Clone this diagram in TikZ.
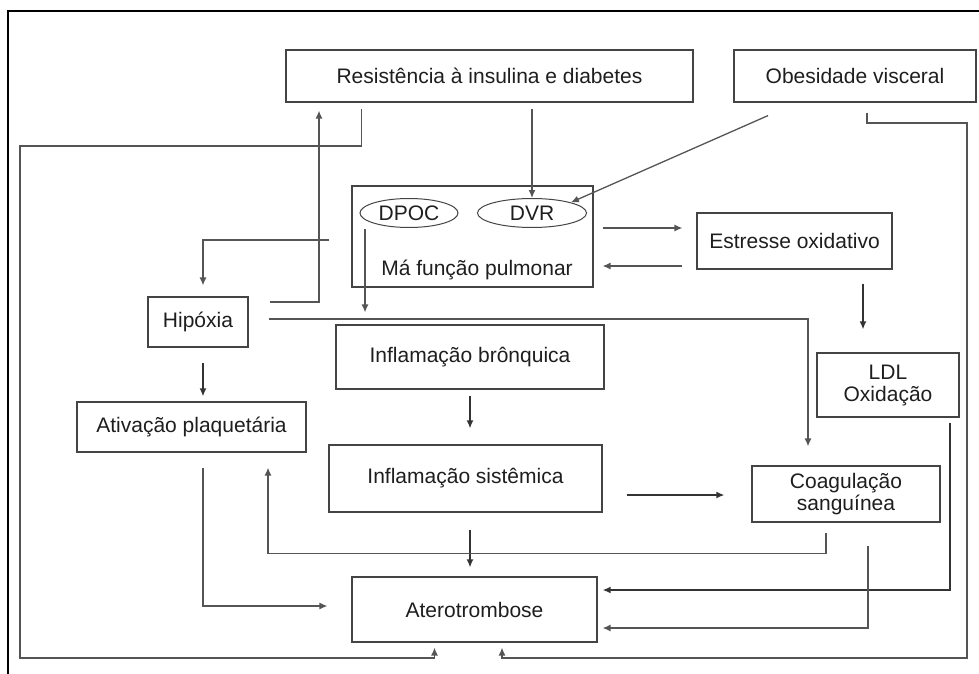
\documentclass[tikz,border=0pt]{standalone}
\usepackage{fontspec}
\setmainfont{Liberation Sans}
\usetikzlibrary{calc}
\usetikzlibrary{arrows.meta}
\usetikzlibrary{shapes.geometric}
\definecolor{boxgray}{HTML}{444444}
\definecolor{linegray}{HTML}{555555}
\definecolor{txtgray}{HTML}{1E1E1E}
\tikzset{caixa/.style={draw=boxgray,line width=0.6pt,rectangle,inner sep=0pt,align=center,
    text=txtgray,font=\fontsize{10.5}{11}\selectfont}}
\tikzset{oval/.style={draw=boxgray,line width=0.5pt,ellipse,inner sep=0pt,
    text=txtgray,font=\fontsize{10.5}{11}\selectfont}}
\tikzset{seta/.style={draw=linegray,line width=0.65pt,-{Latex[length=4pt,width=3.5pt]}}}
\tikzset{setaforte/.style={seta,draw=black!80,line width=0.9pt}}

\begin{document}
\begin{tikzpicture}[x=0.5pt,y=-0.5pt]
    \useasboundingbox (0,0) rectangle (979,674);
    % frame
    \draw[black,line width=1.2pt] (8,674) -- (8,11) -- (979,11);

    % boxes
    \node[caixa,minimum width=203.5pt,minimum height=26pt] (res) at (489.5,76) {Resistência à insulina e diabetes};
    \node[caixa,minimum width=121pt,minimum height=26pt] (obe) at (855,76) {Obesidade visceral};
    \node[caixa,minimum width=120.5pt,minimum height=50.5pt] (mfp) at (472.5,236.5) {};
    \node[oval,minimum width=49pt,minimum height=14.5pt] (dpoc) at (409,213) {DPOC};
    \node[oval,minimum width=54.5pt,minimum height=14.5pt] (dvr) at (532,213) {DVR};
    \node[caixa,draw=none] (mfplbl) at (477,270) {Má função pulmonar};
    \node[caixa,minimum width=97.5pt,minimum height=28pt] (est) at (794.5,241) {Estresse oxidativo};
    \node[caixa,minimum width=50pt,minimum height=25pt] (hip) at (198,322) {Hipóxia};
    \node[caixa,minimum width=134pt,minimum height=32pt] (infb) at (470,357) {Inflamação brônquica};
    \node[caixa,minimum width=71pt,minimum height=32pt] (ldl) at (888,385) {LDL\\Oxidação};
    \node[caixa,minimum width=114.5pt,minimum height=25pt] (ativ) at (191.5,427) {Ativação plaquetária};
    \node[caixa,minimum width=136.5pt,minimum height=33.5pt] (infs) at (465.5,478.5) {Inflamação sistêmica};
    \node[caixa,minimum width=94pt,minimum height=28pt] (coag) at (846,494) {Coagulação\\sanguínea};
    \node[caixa,minimum width=122.5pt,minimum height=32.5pt] (ater) at (474.5,609.5) {Aterotrombose};

    % connectors
    \draw[seta] ($(res.south -| dvr.north)+(0,6)$) -- (dvr.north);
    \draw[seta] ($(obe.south)+(-87,13)$) -- (dvr.north east);
    \draw[seta] ($(res.south)+(-128,6)$) |- (20,146) -- (20,658) -| ($(ater.south)+(-40,5)$);
    \draw[seta] ($(hip.east)+(21,-20)$) -| ($(res.south)+(-170.5,8)$);
    \draw[seta] ($(mfp.west)+(-22,3.5)$) -| ($(hip.north)+(5,-11)$);
    \draw[seta] ($(dpoc.south)+(-44,1)$) -- ($(infb.north)+(-105,-12)$);
    \draw[seta] ($(hip.east)+(20,-3)$) -| ($(coag.north)+(-38,-19)$);
    \draw[seta] ($(mfp.east)+(9,-8.5)$) -- ($(est.west)+(-14,-13)$);
    \draw[seta] ($(est.west)+(-14,25)$) -- ($(mfp.east)+(9,29.5)$);
    \draw[setaforte] ($(est.south)+(68.5,14)$) -- ($(ldl.north)+(-25,-23)$);
    \draw[seta] ($(obe.south)+(12,10)$) |- (967,123) -- (967,658) -| ($(ater.south)+(27.5,5)$);
    \draw[setaforte] ($(hip.south)+(5,15)$) -- ($(ativ.north)+(11.5,-5)$);
    \draw[setaforte] ($(infb.south)+(0,6)$) -- ($(infs.north)+(4.5,-16)$);
    \draw[setaforte] ($(infs.east)+(24,16.5)$) -- ($(coag.west)+(-27,1)$);
    \draw[setaforte] ($(infs.south)+(4.5,17)$) -- ($(ater.north)+(-4.5,-9)$);
    \draw[seta] ($(coag.south)+(-20,10)$) -- ++(0,21) -| ($(ativ.south)+(76.5,15)$);
    \draw[seta] ($(ativ.south)+(11.5,15)$) |- ($(ater.west)+(-24,-3.5)$);
    \draw[setaforte,line width=1.3pt] ($(ldl.south)+(62,5)$) |- ($(ater.east)+(5,-19.5)$);
    \draw[seta] ($(coag.south)+(22,23)$) |- ($(ater.east)+(5,18.5)$);
\end{tikzpicture}
\end{document}
